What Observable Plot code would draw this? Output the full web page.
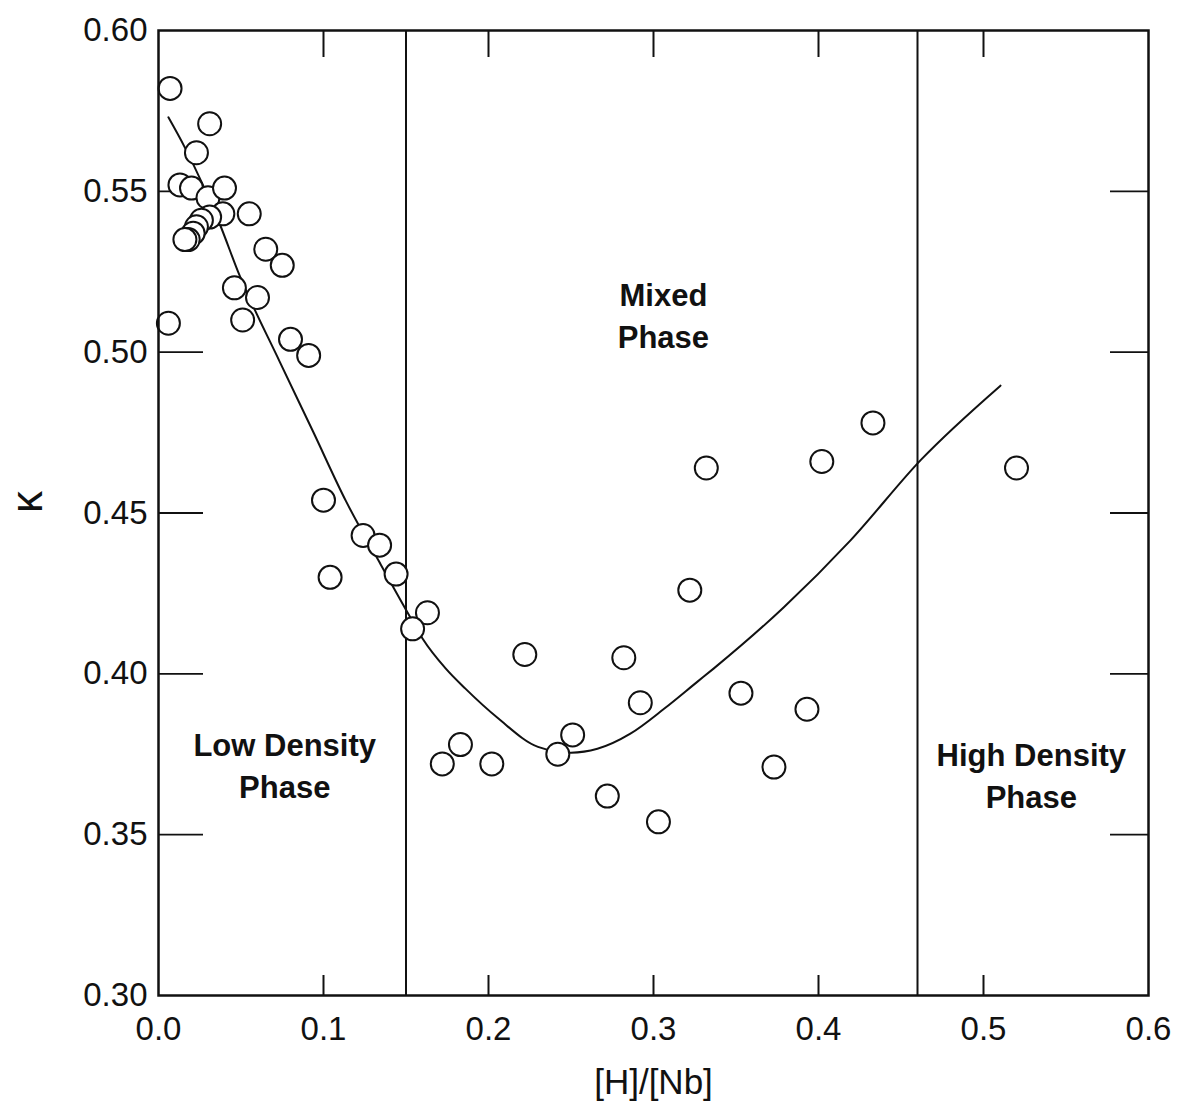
<!DOCTYPE html>
<html>
<head>
<meta charset="utf-8">
<script src="https://cdn.jsdelivr.net/npm/d3@7"></script>
<script src="https://cdn.jsdelivr.net/npm/@observablehq/plot@0.6"></script>
<style>
  body { margin: 0; background: #fff; }
</style>
</head>
<body>
<div id="chart"></div>
<script>
// Measured points: x = [H]/[Nb], y = kappa
const pointX = [0.007, 0.031, 0.023, 0.013, 0.020, 0.030, 0.040, 0.039, 0.055, 0.031,
                0.026, 0.023, 0.021, 0.018, 0.016, 0.065, 0.075, 0.046, 0.060, 0.051,
                0.006, 0.080, 0.091, 0.100, 0.104, 0.124, 0.134, 0.144, 0.163, 0.154,
                0.222, 0.183, 0.172, 0.202, 0.242, 0.251, 0.282, 0.292, 0.272, 0.303,
                0.322, 0.332, 0.402, 0.433, 0.520, 0.353, 0.393, 0.373];
const pointY = [0.582, 0.571, 0.562, 0.552, 0.551, 0.548, 0.551, 0.543, 0.543, 0.542,
                0.541, 0.539, 0.537, 0.535, 0.535, 0.532, 0.527, 0.520, 0.517, 0.510,
                0.509, 0.504, 0.499, 0.454, 0.430, 0.443, 0.440, 0.431, 0.419, 0.414,
                0.406, 0.378, 0.372, 0.372, 0.375, 0.381, 0.405, 0.391, 0.362, 0.354,
                0.426, 0.464, 0.466, 0.478, 0.464, 0.394, 0.389, 0.371];

// Fitted curve
const curveX = [0.006, 0.016, 0.037, 0.049, 0.0735, 0.0936, 0.1137, 0.1337, 0.1518, 0.160,
                0.174, 0.186, 0.206, 0.230, 0.250, 0.266, 0.286, 0.3066, 0.3265, 0.3366,
                0.379, 0.4194, 0.4622, 0.5103];
const curveY = [0.573, 0.5636, 0.540, 0.524, 0.497, 0.4754, 0.4536, 0.4349, 0.4183, 0.411,
                0.4017, 0.3954, 0.3861, 0.3773, 0.3755, 0.3767, 0.3814, 0.3892, 0.3975, 0.4017,
                0.4207, 0.4415, 0.4666, 0.4896];

// Phase boundaries
const phaseBoundaries = [0.15, 0.46];

// Axis ticks
const xTicks = [0.0, 0.1, 0.2, 0.3, 0.4, 0.5, 0.6];
const yTicks = [0.30, 0.35, 0.40, 0.45, 0.50, 0.55, 0.60];
const xInnerTicks = [0.1, 0.2, 0.3, 0.4, 0.5];
const yInnerTicks = [0.35, 0.40, 0.45, 0.50, 0.55];

// Axis titles
const xTitle = "[H]/[Nb]";
const yTitle = "κ";

// Region annotations
const regionText = ["Low Density\nPhase", "Mixed\nPhase", "High Density\nPhase"];
const regionX = [0.0765, 0.306, 0.529];
const regionY = [0.372, 0.512, 0.369];

const points = pointX.map((x, i) => ({x, y: pointY[i]}));
const curve = curveX.map((x, i) => ({x, y: curveY[i]}));
const regions = regionText.map((t, i) => ({text: t, x: regionX[i], y: regionY[i]}));

const font = '"Liberation Sans", Arial, sans-serif';
const ink = "#111";

const chart = Plot.plot({
  width: 1183,
  height: 1120,
  marginLeft: 158,
  marginRight: 35,
  marginTop: 30,
  marginBottom: 125,
  style: {fontFamily: font, color: ink, background: "#fff"},
  x: {domain: [0, 0.6]},
  y: {domain: [0.3, 0.6]},
  marks: [
    Plot.ruleX(phaseBoundaries, {stroke: ink, strokeWidth: 2}),
    Plot.ruleX(xInnerTicks, {stroke: ink, strokeWidth: 2, insetTop: 945}),
    Plot.ruleX(xInnerTicks, {stroke: ink, strokeWidth: 2, insetBottom: 938}),
    Plot.ruleY(yInnerTicks, {stroke: ink, strokeWidth: 1.8, insetRight: 945}),
    Plot.ruleY(yInnerTicks, {stroke: ink, strokeWidth: 1.8, insetLeft: 952}),
    Plot.line(curve, {x: "x", y: "y", curve: "monotone-x", stroke: ink, strokeWidth: 2}),
    Plot.dot(points, {x: "x", y: "y", r: 11.5, fill: "white", stroke: ink, strokeWidth: 2}),
    Plot.text(regions, {x: "x", y: "y", text: "text", fontSize: 31, fontWeight: "bold",
      lineHeight: 1.35, fill: ink, fontFamily: font}),
    Plot.frame({stroke: ink, strokeWidth: 2.5}),
    Plot.axisX({ticks: xTicks, tickSize: 0, tickPadding: 21, tickFormat: d3.format(".1f"),
      fontSize: 33, label: null}),
    Plot.axisY({ticks: yTicks, tickSize: 0, tickPadding: 11, tickFormat: d3.format(".2f"),
      fontSize: 33, label: null}),
    Plot.text([xTitle], {frameAnchor: "bottom", dy: 98, fontSize: 35, fill: ink, fontFamily: font}),
    Plot.text([yTitle], {frameAnchor: "left", dx: -131, rotate: -90, fontSize: 44, fill: ink, fontFamily: font})
  ]
});

document.getElementById("chart").appendChild(chart);
</script>
</body>
</html>
